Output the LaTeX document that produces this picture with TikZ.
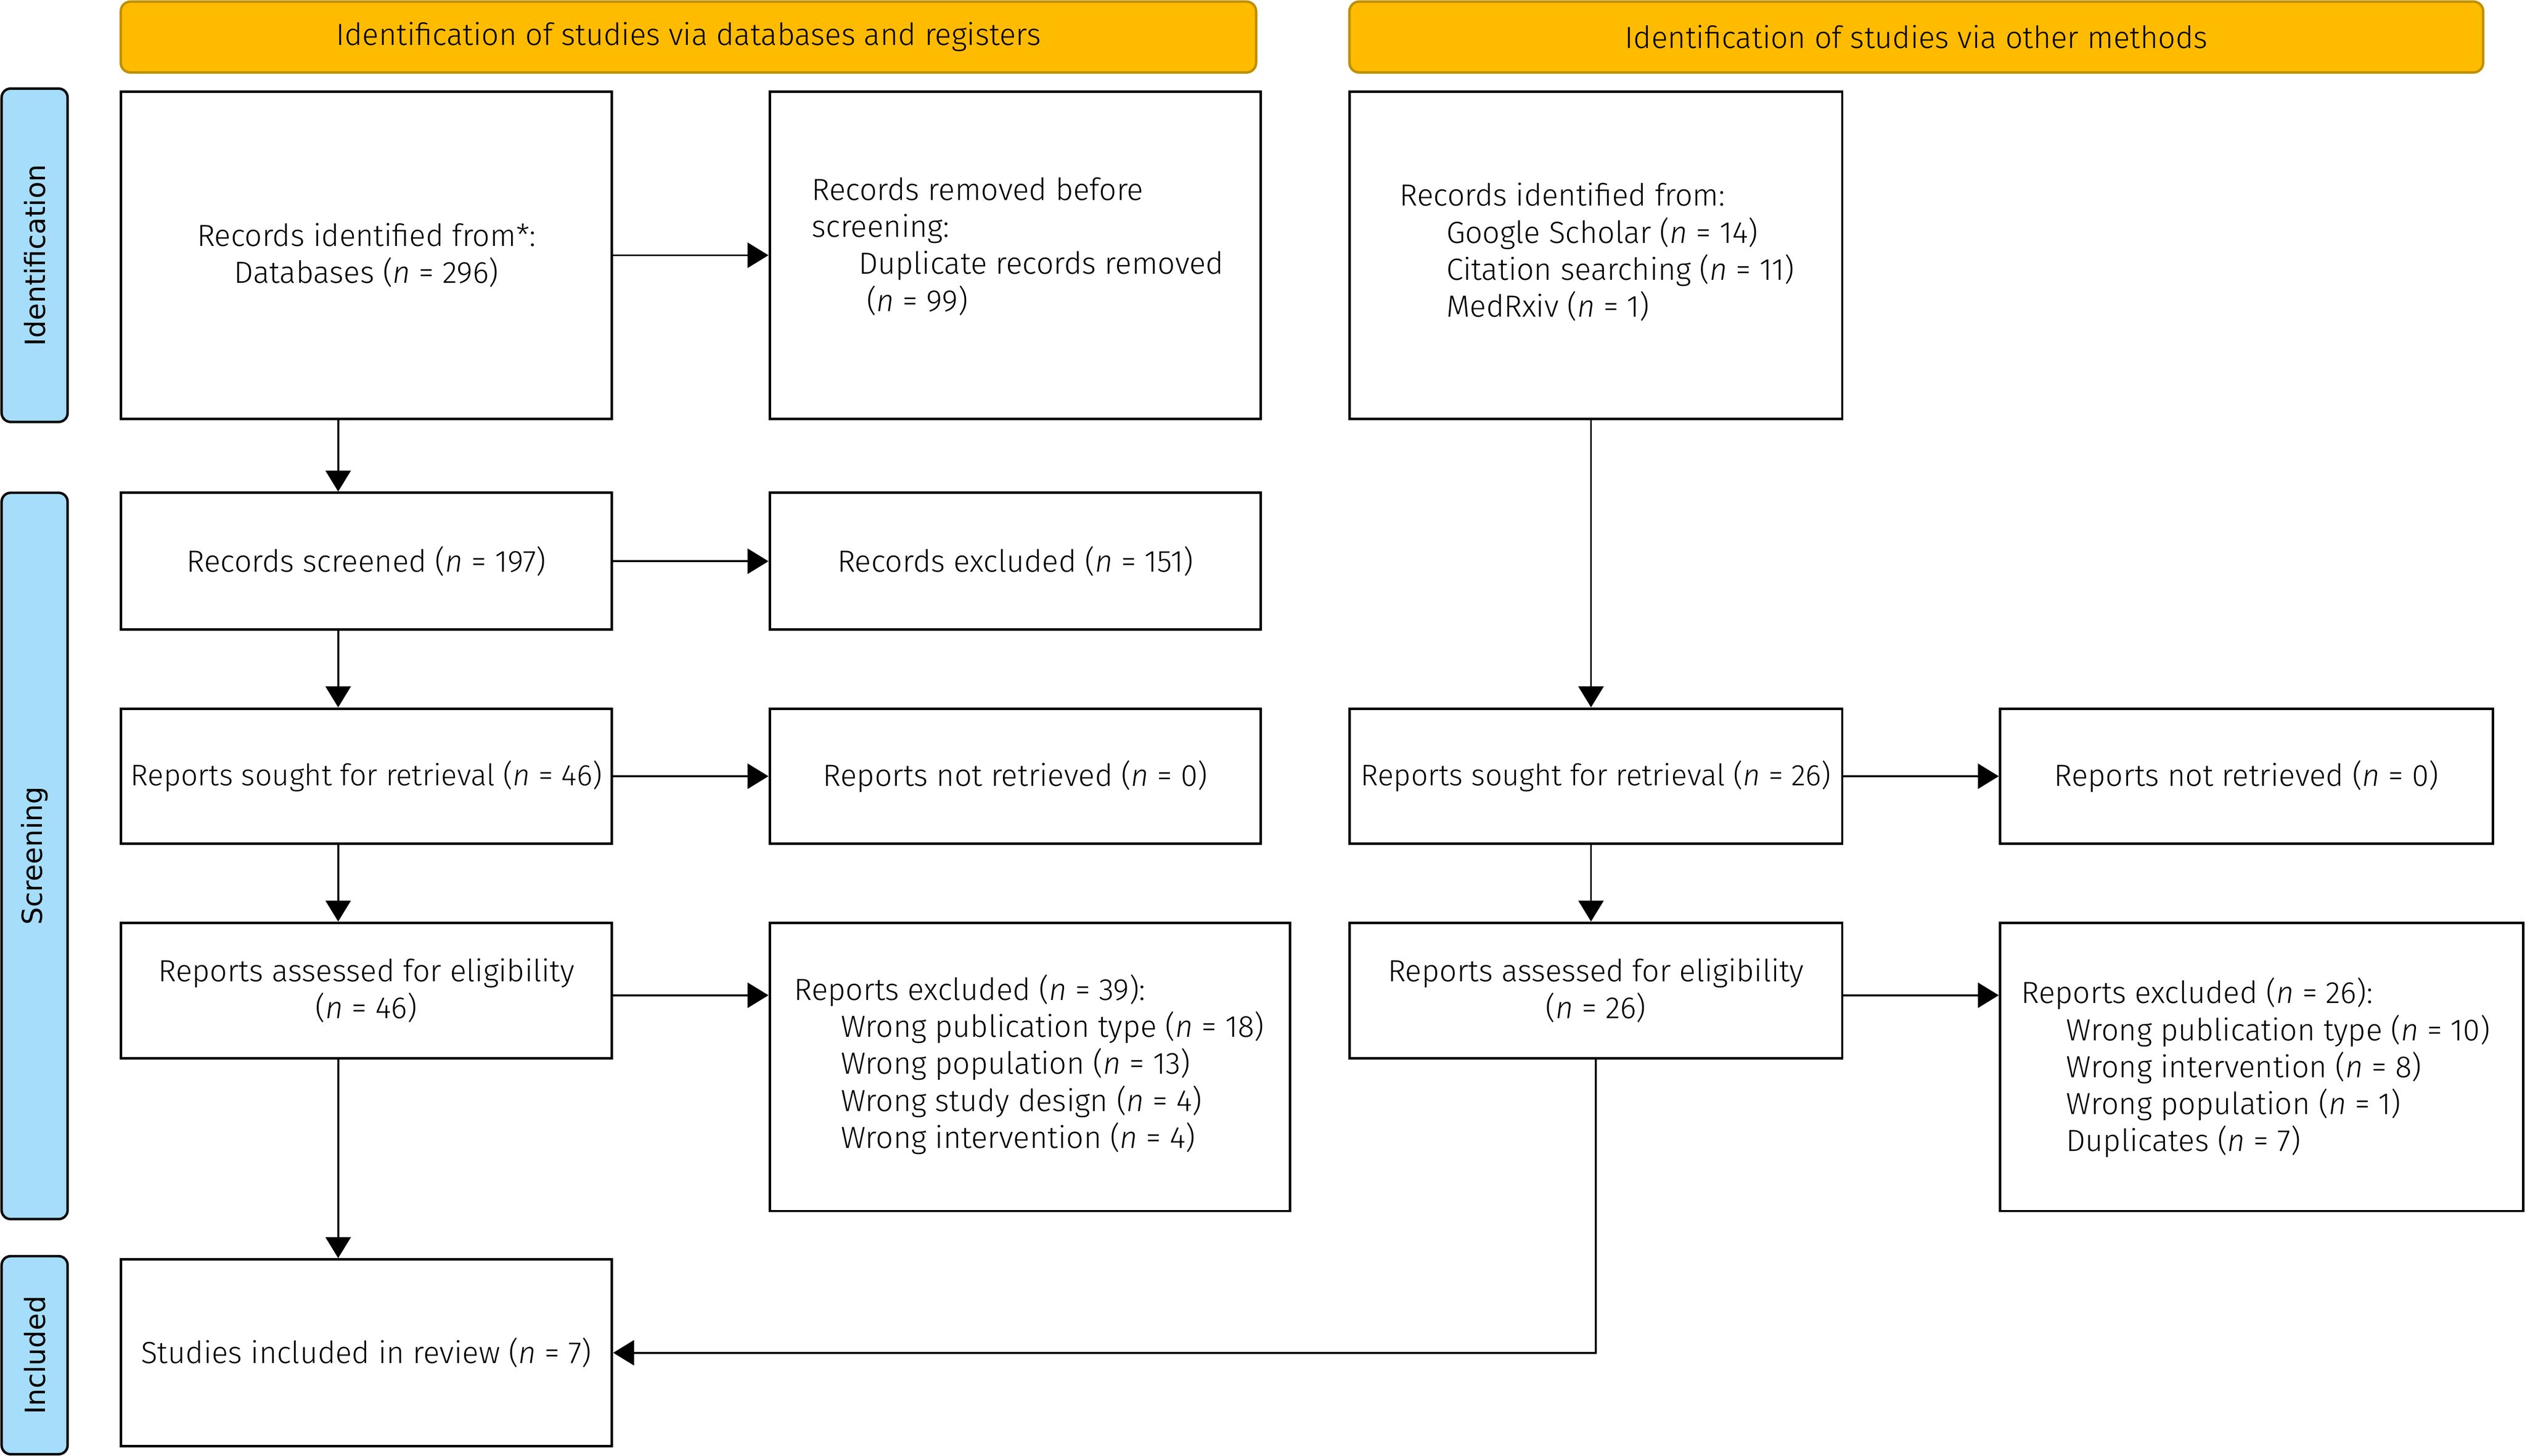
\documentclass[tikz,border=0pt]{standalone}
\usepackage{fontspec}
\setmainfont{Fira Sans}[UprightFont={* Light}, ItalicFont={* Light Italic}]
\newfontfamily\sidefont{DejaVu Sans}
\usetikzlibrary{arrows.meta,calc}
\definecolor{hdrfill}{RGB}{255,187,0}
\definecolor{hdrline}{RGB}{191,144,0}
\definecolor{sidefill}{RGB}{165,221,250}
\definecolor{sideline}{RGB}{12,12,12}
\newcommand{\mainsize}{\fontsize{27pt}{32.7pt}\selectfont}
\newcommand{\narrowsize}{\fontsize{26.3pt}{32.7pt}\selectfont}
\tikzset{
  box/.style={draw=black, line width=2.2pt, fill=white, inner sep=0pt, align=center, font=\mainsize},
  txt/.style={inner sep=0pt, align=left, font=\mainsize, anchor=west},
  hdr/.style={draw=hdrline, fill=hdrfill, rounded corners=3mm, line width=2.2pt, inner sep=0pt,
              minimum height=22mm, font=\mainsize},
  side/.style={draw=sideline, fill=sidefill, rounded corners=2.8mm, line width=2.2pt, inner sep=0pt,
               rotate=90, minimum height=20.5mm, font=\sidefont\fontsize{24.5pt}{28pt}\selectfont},
  arr/.style={line width=1.7pt, -{Triangle[length=6.5mm, width=7.8mm]}}
}
\newcommand{\nn}{\textit{n}}
\begin{document}
\begin{tikzpicture}[x=0.5mm, y=-0.5mm]
\useasboundingbox (0,0) rectangle (1568,904);
% headers
\node[hdr, minimum width=352.5mm] (h1) at (427.5,23) {Identification of studies via databases and registers};
\node[hdr, minimum width=352mm] (h2) at (1190,23) {Identification of studies via other methods};
% side labels
\node[side, minimum width=103.5mm] (s1) at (21.5,158.5) {Identification};
\node[side, minimum width=225.5mm] (s2) at (21.5,531.5) {Screening};
\node[side, minimum width=61.5mm] (s3) at (21.5,841.5) {Included};
% left column
\node[box, minimum width=152.5mm, minimum height=101.5mm] (l1) at (227.5,158.5) {Records identified from*:\\Databases (\nn{} = 296)};
\node[box, minimum width=152.5mm, minimum height=42.5mm] (l2) at (227.5,348.5) {Records screened (\nn{} = 197)};
\node[box, minimum width=152.5mm, minimum height=42mm, font=\narrowsize] (l3) at (227.5,482) {Reports sought for retrieval (\nn{} = 46)};
\node[box, minimum width=152.5mm, minimum height=42mm] (l4) at (227.5,615) {Reports assessed for eligibility\\(\nn{} = 46)};
\node[box, minimum width=152.5mm, minimum height=58mm] (l5) at (227.5,840) {Studies included in review (\nn{} = 7)};
% middle column
\node[box, minimum width=152.5mm, minimum height=101.5mm] (m1) at (630.5,158.5) {};
\node[txt] (m1t) at (504,153) {Records removed before\\screening:\\\hspace*{14.5mm}Duplicate records removed\\\hspace*{17mm}(\nn{} = 99)};
\node[box, minimum width=152.5mm, minimum height=42.5mm] (m2) at (630.5,348.5) {Records excluded (\nn{} = 151)};
\node[box, minimum width=152.5mm, minimum height=42mm] (m3) at (630.5,482) {Reports not retrieved (\nn{} = 0)};
\node[box, minimum width=161.5mm, minimum height=89.5mm] (m4) at (639.5,662.5) {};
\node[txt] (m4t) at (493,661) {Reports excluded (\nn{} = 39):\\\hspace*{14.5mm}Wrong publication type (\nn{} = 18)\\\hspace*{14.5mm}Wrong population (\nn{} = 13)\\\hspace*{14.5mm}Wrong study design (\nn{} = 4)\\\hspace*{14.5mm}Wrong intervention (\nn{} = 4)};
% right column
\node[box, minimum width=153mm, minimum height=101.5mm] (r1) at (991,158.5) {};
\node[txt] (r1t) at (869,156.5) {Records identified from:\\\hspace*{14.5mm}Google Scholar (\nn{} = 14)\\\hspace*{14.5mm}Citation searching (\nn{} = 11)\\\hspace*{14.5mm}MedRxiv (\nn{} = 1)};
\node[box, minimum width=153mm, minimum height=42mm, font=\narrowsize] (r3) at (991,482) {Reports sought for retrieval (\nn{} = 26)};
\node[box, minimum width=153mm, minimum height=42mm] (r4) at (991,615) {Reports assessed for eligibility\\(\nn{} = 26)};
% far right column
\node[box, minimum width=153mm, minimum height=42mm] (f3) at (1395,482) {Reports not retrieved (\nn{} = 0)};
\node[box, minimum width=162.5mm, minimum height=89.5mm] (f4) at (1404.5,662.5) {};
\node[txt] (f4t) at (1255,663) {Reports excluded (\nn{} = 26):\\\hspace*{14mm}Wrong publication type (\nn{} = 10)\\\hspace*{14mm}Wrong intervention (\nn{} = 8)\\\hspace*{14mm}Wrong population (\nn{} = 1)\\\hspace*{14mm}Duplicates (\nn{} = 7)};
% connectors
\coordinate (cl) at (210,0);
\coordinate (cr) at (988,0);
\coordinate (cr2) at (991,0);
\draw[arr] (l1.south -| cl) -- (l2.north -| cl);
\draw[arr] (l2.south -| cl) -- (l3.north -| cl);
\draw[arr] (l3.south -| cl) -- (l4.north -| cl);
\draw[arr] (l4.south -| cl) -- (l5.north -| cl);
\draw[arr] (l1) -- (m1);
\draw[arr] (l2) -- (m2);
\draw[arr] (l3) -- (m3);
\draw[arr] ([yshift=-1.5mm]l4.east) -- ([yshift=-1.5mm]l4.east -| m4.west);
\draw[arr] (r1.south -| cr) -- (r3.north -| cr);
\draw[arr] (r3.south -| cr) -- (r4.north -| cr);
\draw[arr] (r3) -- (f3);
\draw[arr] ([yshift=-1.5mm]r4.east) -- ([yshift=-1.5mm]r4.east -| f4.west);
\draw[arr] (r4.south -| cr2) |- (l5.east);
\end{tikzpicture}
\end{document}
